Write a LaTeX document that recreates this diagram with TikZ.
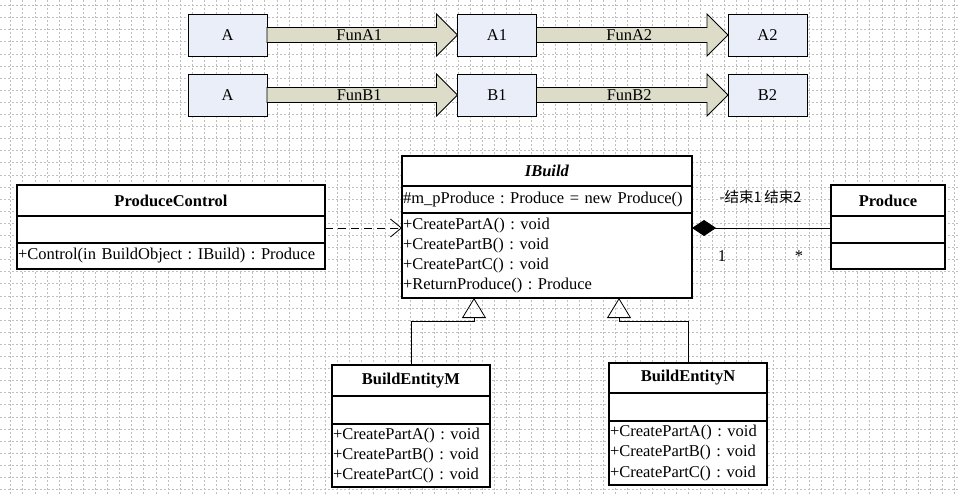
\documentclass[tikz,border=0pt]{standalone}
\usepackage{fontspec}
\setmainfont{Liberation Serif}
\newfontfamily\cjk{Noto Sans CJK SC}
\usetikzlibrary{arrows.meta,positioning}
\definecolor{funblue}{HTML}{E9EEF8}
\definecolor{funkhaki}{HTML}{DCDCC9}
\frenchspacing
\tikzset{
  funbox/.style={draw, thick, fill=funblue, minimum width=79pt, minimum height=42pt, inner sep=0pt, outer sep=0pt},
  funarrow/.style={draw, thick, fill=funkhaki},
  umlpart/.style={draw, line width=1.2pt, fill=white, inner sep=0pt, outer sep=0pt},
  gridline/.style={gray!50, line width=0.5pt, dash pattern=on 2pt off 2pt},
}
\begin{document}
\begin{tikzpicture}[x=1pt, y=-1pt, font=\fontsize{16.5}{20.3}\selectfont]
   \fill[white] (0,0) rectangle (958,495);
   \useasboundingbox (0,0) rectangle (958,495);
   % background grid
   \foreach \gx in {0,...,78} \draw[gridline] ({10.6+12.1*\gx},0) -- ++(0,495);
   \foreach \gy in {0,...,40} \draw[gridline] (0,{5.4+12.1*\gy}) -- ++(958,0);

   % state boxes
   \node[funbox] (a) at (227.5,35) {A};
   \node[funbox] (a1) at (497,35) {A1};
   \node[funbox] (a2) at (767.5,35) {A2};
   \node[funbox] (b) at (227.5,95) {A};
   \node[funbox] (b1) at (497,95) {B1};
   \node[funbox] (b2) at (767.5,95) {B2};
   \foreach \from/\to/\lbl in {a/a1/FunA1, a1/a2/FunA2, b/b1/FunB1, b1/b2/FunB2} {
      \draw[funarrow] ([yshift=7.5pt]\from.east) -- ([xshift=-21pt, yshift=7.5pt]\to.west) -- ([xshift=-21pt, yshift=21pt]\to.west) -- (\to.west) -- ([xshift=-21pt, yshift=-21pt]\to.west) -- ([xshift=-21pt, yshift=-7.5pt]\to.west) -- ([yshift=-7.5pt]\from.east) -- cycle;
      \path (\from.east) -- (\to.west) node[midway, xshift=-3pt] {\lbl};
   }

   % ProduceControl
   \node[umlpart, minimum width=308pt, minimum height=31pt, anchor=north west] (pc) at (17,185) {\textbf{ProduceControl}};
   \node[umlpart, minimum width=308pt, minimum height=27pt, below=0pt of pc] (pc-attr) {};
   \node[umlpart, minimum width=308pt, minimum height=26pt, text width=306pt, align=left, below=0pt of pc-attr] (pc-ops) {+Control(in BuildObject : IBuild) : Produce};

   % IBuild
   \node[umlpart, minimum width=290pt, minimum height=30pt, anchor=north west] (ib) at (402,156) {\textbf{\textit{IBuild}}};
   \node[umlpart, minimum width=290pt, minimum height=27pt, text width=288pt, align=left, below=0pt of ib] (ib-attr) {\#m\_pProduce : Produce = new Produce()};
   \node[umlpart, minimum width=290pt, minimum height=85pt, text width=288pt, align=left, below=0pt of ib-attr] (ib-ops) {+CreatePartA() : void\\+CreatePartB() : void\\+CreatePartC() : void\\+ReturnProduce() : Produce};

   % Produce
   \node[umlpart, minimum width=114pt, minimum height=31pt, anchor=north west] (pr) at (831,185) {\textbf{Produce}};
   \node[umlpart, minimum width=114pt, minimum height=27pt, below=0pt of pr] (pr-attr) {};
   \node[umlpart, minimum width=114pt, minimum height=26pt, below=0pt of pr-attr] (pr-ops) {};

   % BuildEntityM
   \node[umlpart, minimum width=158pt, minimum height=31pt, anchor=north west] (bm) at (332,365) {\textbf{BuildEntityM}};
   \node[umlpart, minimum width=158pt, minimum height=28pt, below=0pt of bm] (bm-attr) {};
   \node[umlpart, minimum width=158pt, minimum height=63pt, text width=156pt, align=left, below=0pt of bm-attr] (bm-ops) {+CreatePartA() : void\\+CreatePartB() : void\\+CreatePartC() : void};

   % BuildEntityN
   \node[umlpart, minimum width=158pt, minimum height=30pt, anchor=north west] (bn) at (609,363) {\textbf{BuildEntityN}};
   \node[umlpart, minimum width=158pt, minimum height=28pt, below=0pt of bn] (bn-attr) {};
   \node[umlpart, minimum width=158pt, minimum height=64pt, text width=156pt, align=left, below=0pt of bn-attr] (bn-ops) {+CreatePartA() : void\\+CreatePartB() : void\\+CreatePartC() : void};

   % dependency
   \draw[thick, dash pattern=on 8pt off 5pt, -{Straight Barb[length=11pt, width=18pt]}] ([yshift=1.5pt]pc-attr.east) -- ([yshift=1.5pt]pc-attr.east -| ib-ops.west);
   % composition
   \draw[thick, {Diamond[length=24pt, width=16pt]}-] ([yshift=1.5pt]pr-attr.west -| ib-ops.east) -- ([yshift=1.5pt]pr-attr.west);
   \node[anchor=west, font=\cjk\fontsize{14.5}{17}\selectfont] (role1) at (716,197) {-结束1};
   \node[anchor=east, font=\cjk\fontsize{14.5}{17}\selectfont] (role2) at (805,197) {结束2};
   \node (mult1) at (722,256) {1};
   \node (mult2) at (799,256) {*};

   % generalization
   \coordinate (gm) at (ib-ops.south -| 474,0);
   \coordinate (gn) at (ib-ops.south -| 619,0);
   \draw[thick, -{Triangle[open, length=20pt, width=24pt]}] (bm.north) |- ([yshift=-23pt]gm) -- (gm);
   \draw[thick, -{Triangle[open, length=20pt, width=24pt]}] (bn.north) |- ([yshift=-23pt]gn) -- (gn);
\end{tikzpicture}
\end{document}
